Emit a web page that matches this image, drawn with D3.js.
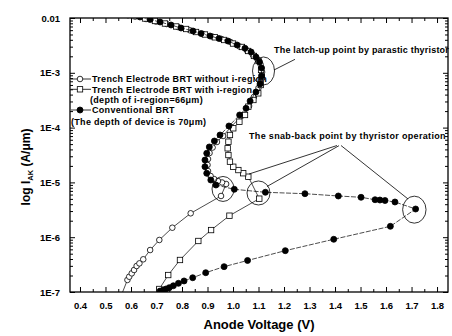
<!DOCTYPE html>
<html lang="en">
<head>
  <meta charset="UTF-8">
  <script src="https://d3js.org/d3.v7.min.js"></script>
  <style>
    body { margin: 0; background: #fff; }
    svg { display: block; font-family: Arial, "Liberation Sans", sans-serif; }
  </style>
</head>
<body>
  <script>
    const width = 452;
    const height = 336;

    // Trench Electrode BRT without i-region (open circles)
    const noIVolt = [0.550, 0.586, 0.593, 0.603, 0.612, 0.622, 0.633, 0.648, 0.675, 0.711, 0.762, 0.834, 0.953,
      0.973, 0.957, 0.941, 0.926, 0.912, 0.902, 0.900, 0.902, 0.908, 0.920, 0.937, 0.961, 0.992,
      1.035, 1.063, 1.082, 1.100, 1.110, 1.114, 1.108, 1.096, 1.078, 1.055, 1.026, 0.990, 0.955,
      0.920, 0.882, 0.831, 0.784, 0.740, 0.698, 0.659, 0.616, 0.573];
    const noICur = [6.3e-8, 1.66e-7, 1.90e-7, 2.19e-7, 2.52e-7, 2.98e-7, 3.33e-7, 3.95e-7, 5.83e-7, 8.9e-7, 1.49e-6, 2.73e-6, 5.65e-6,
      9.35e-6, 9.96e-6, 1.06e-5, 1.15e-5, 1.31e-5, 1.61e-5, 2.08e-5, 2.67e-5, 3.44e-5, 4.33e-5, 5.46e-5, 7.03e-5, 1.03e-4,
      1.66e-4, 2.48e-4, 3.62e-4, 5.28e-4, 7.39e-4, 1.03e-3, 1.42e-3, 1.75e-3, 2.11e-3, 2.55e-3, 3.02e-3, 3.65e-3, 4.14e-3,
      4.56e-3, 5.11e-3, 5.96e-3, 6.85e-3, 7.77e-3, 8.63e-3, 9.59e-3, 1.065e-2, 1.16e-2];

    // Trench Electrode BRT with i-region (open squares)
    const withIVolt = [0.711, 0.746, 0.792, 0.864, 0.914, 0.986, 1.103,
      1.060, 1.040, 1.021, 1.001, 0.988, 0.982, 0.979, 0.982, 0.988, 1.001, 1.025, 1.047, 1.060, 1.080,
      1.099, 1.109, 1.113, 1.110, 1.100, 1.082, 1.059, 1.035, 1.000, 0.965, 0.929, 0.890, 0.855, 0.816,
      0.777, 0.733, 0.694, 0.655, 0.612, 0.565];
    const withICur = [1.135e-7, 2.04e-7, 3.84e-7, 8.53e-7, 1.35e-6, 2.47e-6, 5.05e-6,
      1.27e-5, 1.47e-5, 1.68e-5, 1.93e-5, 2.39e-5, 3.16e-5, 4.19e-5, 5.53e-5, 7.33e-5, 9.71e-5, 1.28e-4, 1.70e-4, 2.41e-4, 3.19e-4,
      4.22e-4, 5.99e-4, 8.38e-4, 1.125e-3, 1.64e-3, 2.03e-3, 2.50e-3, 2.96e-3, 3.42e-3, 3.97e-3, 4.44e-3, 5.00e-3, 5.55e-3, 6.30e-3,
      7.00e-3, 7.93e-3, 8.82e-3, 9.79e-3, 1.088e-2, 1.16e-2];

    // Conventional BRT (filled circles)
    const convVolt = [0.714, 0.727, 0.737, 0.750, 0.766, 0.786, 0.808, 0.842, 0.893, 0.965, 1.057, 1.205, 1.395, 1.617, 1.716,
      1.635, 1.596, 1.576, 1.557, 1.502, 1.413, 1.282, 1.127, 1.005, 0.933, 0.913, 0.897, 0.890, 0.890, 0.897,
      0.907, 0.927, 0.949, 0.984, 1.026, 1.051, 1.067, 1.090, 1.106, 1.112, 1.112, 1.104, 1.090, 1.071, 1.047,
      1.016, 0.980, 0.945, 0.910, 0.875, 0.843, 0.796, 0.757, 0.714, 0.675, 0.635, 0.588, 0.545];
    const convCur = [1.04e-7, 1.09e-7, 1.135e-7, 1.20e-7, 1.30e-7, 1.44e-7, 1.59e-7, 1.82e-7, 2.25e-7, 2.90e-7, 3.76e-7, 5.68e-7, 9.16e-7, 1.58e-6, 3.27e-6,
      4.39e-6, 4.67e-6, 4.77e-6, 4.83e-6, 5.35e-6, 5.65e-6, 6.22e-6, 6.60e-6, 7.48e-6, 8.97e-6, 1.106e-5, 1.466e-5, 1.934e-5, 2.563e-5, 3.40e-5,
      4.43e-5, 5.69e-5, 7.33e-5, 1.07e-4, 1.698e-4, 2.25e-4, 3.06e-4, 4.46e-4, 6.25e-4, 8.74e-4, 1.224e-3, 1.574e-3, 1.942e-3, 2.396e-3, 2.80e-3,
      3.216e-3, 3.80e-3, 4.23e-3, 4.69e-3, 5.21e-3, 5.79e-3, 6.57e-3, 7.45e-3, 8.45e-3, 9.39e-3, 1.043e-2, 1.134e-2, 1.208e-2];

    const xTicks = [0.4, 0.5, 0.6, 0.7, 0.8, 0.9, 1.0, 1.1, 1.2, 1.3, 1.4, 1.5, 1.6, 1.7, 1.8];
    const yTicks = [1e-7, 1e-6, 1e-5, 1e-4, 1e-3, 1e-2];
    const yTickLabels = ["1E-7", "1E-6", "1E-5", "1E-4", "1E-3", "0.01"];

    // circled points: [voltage, current, rx, ry]
    const latchCircle = [1.1196, 1.08e-3, 11, 14];
    const snapCircles = [[0.9608, 7.59e-6, 11, 12.5], [1.100, 6.41e-6, 11.5, 12], [1.711, 3.18e-6, 11.7, 13.5]];

    const x = d3.scaleLinear().domain([0.3608, 1.843]).range([70, 448]);
    const y = d3.scaleLog().domain([1e-7, 1e-2]).range([292, 18]);

    const svg = d3.select("body")
      .append("svg")
      .attr("width", width)
      .attr("height", height);

    svg.append("clipPath").attr("id", "plot")
      .append("rect").attr("x", 70).attr("y", 18).attr("width", 378).attr("height", 274);

    // axes
    const xMinor = xTicks.map(d => d + 0.05).filter(d => d < 1.84);
    const yMinor = [];
    for (let e = -7; e < -2; e++) {
      for (let k = 2; k < 10; k++) yMinor.push(k * Math.pow(10, e));
    }

    function styleAxis(g, size) {
      g.select(".domain").remove();
      g.selectAll("line").attr("stroke", "#000").attr("stroke-width", 1);
      g.selectAll("text").attr("font-weight", "bold").attr("font-size", size).attr("fill", "#000");
    }

    svg.append("g").attr("transform", "translate(0,292)")
      .call(d3.axisBottom(x).tickValues(xTicks).tickSize(-5).tickSizeOuter(0).tickPadding(10).tickFormat(d3.format(".1f")))
      .call(g => styleAxis(g, 9.5));
    svg.append("g").attr("transform", "translate(0,292)")
      .call(d3.axisBottom(x).tickValues(xMinor).tickSize(-3).tickSizeOuter(0).tickFormat(""))
      .call(g => styleAxis(g, 9.5));
    svg.append("g").attr("transform", "translate(0,18)")
      .call(d3.axisTop(x).tickValues(xTicks).tickSize(-5).tickSizeOuter(0).tickFormat(""))
      .call(g => styleAxis(g, 9.5));
    svg.append("g").attr("transform", "translate(0,18)")
      .call(d3.axisTop(x).tickValues(xMinor).tickSize(-3).tickSizeOuter(0).tickFormat(""))
      .call(g => styleAxis(g, 9.5));

    svg.append("g").attr("transform", "translate(70,0)")
      .call(d3.axisLeft(y).tickValues(yTicks).tickSize(-5).tickSizeOuter(0).tickPadding(10).tickFormat((d, i) => yTickLabels[i]))
      .call(g => styleAxis(g, 9.5));
    svg.append("g").attr("transform", "translate(70,0)")
      .call(d3.axisLeft(y).tickValues(yMinor).tickSize(-3).tickSizeOuter(0).tickFormat(""))
      .call(g => styleAxis(g, 9.5));
    svg.append("g").attr("transform", "translate(448,0)")
      .call(d3.axisRight(y).tickValues(yTicks).tickSize(-5).tickSizeOuter(0).tickFormat(""))
      .call(g => styleAxis(g, 9.5));
    svg.append("g").attr("transform", "translate(448,0)")
      .call(d3.axisRight(y).tickValues(yMinor).tickSize(-3).tickSizeOuter(0).tickFormat(""))
      .call(g => styleAxis(g, 9.5));

    svg.append("rect")
      .attr("x", 70).attr("y", 18).attr("width", 378).attr("height", 274)
      .attr("fill", "none").attr("stroke", "#000").attr("stroke-width", 1.3);

    // series
    const series = [
      { volt: noIVolt, cur: noICur, shape: "circle", dash: null },
      { volt: withIVolt, cur: withICur, shape: "square", dash: null },
      { volt: convVolt, cur: convCur, shape: "dot", dash: "5,1.5" }
    ];

    const plot = svg.append("g").attr("clip-path", "url(#plot)");
    const line = d3.line().x(d => x(d[0])).y(d => y(d[1]));

    function drawMarker(g, shape, cx, cy) {
      if (shape === "square") {
        g.append("rect").attr("x", cx - 2.7).attr("y", cy - 2.7).attr("width", 5.4).attr("height", 5.4)
          .attr("fill", "#fff").attr("stroke", "#000").attr("stroke-width", 0.8);
      } else {
        g.append("circle").attr("cx", cx).attr("cy", cy).attr("r", shape === "dot" ? 3 : 2.8)
          .attr("fill", shape === "dot" ? "#000" : "#fff").attr("stroke", "#000").attr("stroke-width", 0.8);
      }
    }

    series.forEach(s => {
      const pts = s.volt.map((v, i) => [v, s.cur[i]]);
      plot.append("path").datum(pts)
        .attr("d", line)
        .attr("fill", "none").attr("stroke", "#000").attr("stroke-width", 0.7)
        .attr("stroke-dasharray", s.dash);
      const mg = plot.append("g");
      pts.forEach(p => drawMarker(mg, s.shape, x(p[0]), y(p[1])));
    });

    // legend
    const legend = svg.append("g").attr("font-size", 9).attr("font-weight", "bold").attr("letter-spacing", 0.3);
    const legendRows = [
      { shape: "circle", yy: 79, text: "Trench Electrode BRT without i-region" },
      { shape: "square", yy: 89.3, text: "Trench Electrode BRT with i-region" },
      { shape: "dot", yy: 110, text: "Conventional BRT" }
    ];
    legendRows.forEach(r => {
      legend.append("line").attr("x1", 71).attr("x2", 91).attr("y1", r.yy).attr("y2", r.yy)
        .attr("stroke", "#000").attr("stroke-width", 0.8);
      drawMarker(legend, r.shape, 80, r.yy);
      legend.append("text").attr("x", 92).attr("y", r.yy + 3.2).text(r.text);
    });
    legend.append("text").attr("x", 90).attr("y", 103.2).text("(depth of i-region=66\u03bcm)");
    legend.append("text").attr("x", 71).attr("y", 125.2).text("(The depth of device is 70\u03bcm)");

    // annotations
    const ann = svg.append("g").attr("fill", "none").attr("stroke", "#000").attr("stroke-width", 0.8);
    ann.append("ellipse")
      .attr("cx", x(latchCircle[0])).attr("cy", y(latchCircle[1]))
      .attr("rx", latchCircle[2]).attr("ry", latchCircle[3]);
    snapCircles.forEach(c => {
      ann.append("ellipse").attr("cx", x(c[0])).attr("cy", y(c[1])).attr("rx", c[2]).attr("ry", c[3]);
    });
    const pointers = [
      [[1.1608, 1.125e-3], [1.2431, 1.762e-3]],
      [[1.4078, 4.71e-5], [1.0627, 1.423e-5]],
      [[1.4156, 4.68e-5], [1.1333, 8.42e-6]],
      [[1.4235, 4.71e-5], [1.6863, 4.98e-6]]
    ];
    pointers.forEach(p => {
      ann.append("line")
        .attr("x1", x(p[0][0])).attr("y1", y(p[0][1]))
        .attr("x2", x(p[1][0])).attr("y2", y(p[1][1]));
    });

    svg.append("text").attr("x", 274).attr("y", 52.5)
      .attr("font-size", 9).attr("font-weight", "bold").attr("letter-spacing", 0.2)
      .text("The latch-up point by parastic thyristor");
    svg.append("text").attr("x", 249).attr("y", 138.5)
      .attr("font-size", 9).attr("font-weight", "bold").attr("letter-spacing", 0.33)
      .text("The snab-back point by thyristor operation");

    // axis titles
    svg.append("text")
      .attr("x", 259).attr("y", 329)
      .attr("text-anchor", "middle")
      .attr("font-size", 13).attr("font-weight", "bold")
      .text("Anode Voltage (V)");

    const yTitle = svg.append("text")
      .attr("transform", "translate(30,167) rotate(-90)")
      .attr("text-anchor", "middle")
      .attr("font-size", 12).attr("font-weight", "bold");
    yTitle.append("tspan").text("log I");
    yTitle.append("tspan").attr("font-size", 7.5).attr("dy", 3).text("AK");
    yTitle.append("tspan").attr("dy", -3).text(" (A/\u03bcm)");
  </script>
</body>
</html>
